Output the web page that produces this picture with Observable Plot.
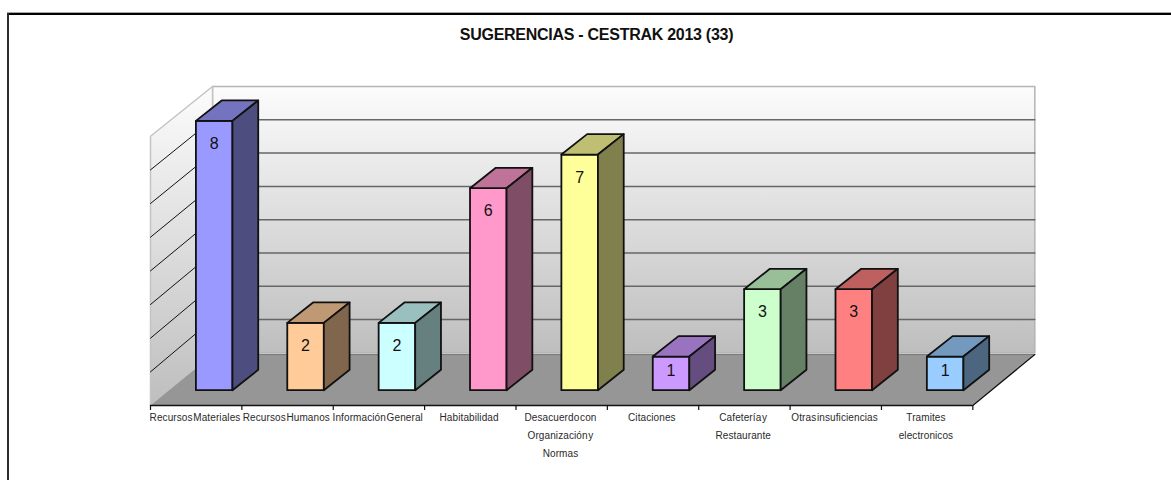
<!DOCTYPE html>
<html>
<head>
<meta charset="utf-8">
<script src="https://cdn.jsdelivr.net/npm/d3@7"></script>
<script src="https://cdn.jsdelivr.net/npm/@observablehq/plot@0.6"></script>
<style>
  html, body { margin: 0; padding: 0; background: #fff; }
  #chart { position: relative; width: 1171px; height: 480px; overflow: hidden; }
  #chart svg { display: block; }
  #chart .labels text { word-spacing: -2.2px; letter-spacing: 0.1px; }
  #chart .heading text { letter-spacing: -0.27px; }
  #frameTop { position: absolute; left: 7px; right: 0; top: 12px; height: 2px; background: #000; border-top: 1px solid #a8a8a8; }
  #frameLeft { position: absolute; left: 7px; width: 2px; top: 13px; bottom: 0; background: #2c2c2c; }
</style>
</head>
<body>
<div id="chart"></div>
<script>
const title = "SUGERENCIAS - CESTRAK 2013 (33)";
const categories = [
  "Recursos Materiales", "Recursos Humanos", "Información General", "Habitabilidad",
  "Desacuerdo con\nOrganización y\nNormas", "Citaciones", "Cafetería y\nRestaurante",
  "Otras insuficiencias", "Tramites\nelectronicos"
];
const values = [8, 2, 2, 6, 7, 1, 3, 3, 1];
const barColors = ["#9999FF", "#FFCC99", "#CCFFFF", "#FF99CC", "#FFFF99", "#CC99FF", "#CCFFCC", "#FF8080", "#99CCFF"];
const gridValues = [1, 2, 3, 4, 5, 6, 7];
const maxValue = 8;

// Oblique projection: x in category units, y in value units.
const depthX = 0.6786, depthY = 1.58;      // how far the back of the floor is shifted
const frontStretch = 1.0108;               // front of the box is slightly larger (perspective)
const px = (x, v, z) => ({x: x + z * depthX, y: z * depthY + v * (1 + (frontStretch - 1) * (1 - z))});
const n = categories.length;
const floorDrop = 0.05;

const bar = {x0: 0.497, w: 0.4, dx: 0.282, y0: 0.459, dy: 0.613, unit: 1.011};
const shade = (c, k) => { const r = d3.rgb(c); return d3.rgb(r.r * k, r.g * k, r.b * k).formatHex(); };

const faces = categories.flatMap((_, i) => {
  const v = values[i] * bar.unit, L = i + bar.x0, R = L + bar.w, B = bar.y0, T = B + v;
  const poly = (id, fill, pts) => pts.map(([x, y]) => ({id: `${i}-${id}`, fill, x, y}));
  return [
    ...poly("front", barColors[i], [[L, B], [R, B], [R, T], [L, T], [L, B]]),
    ...poly("top", shade(barColors[i], 0.75), [[L, T], [R, T], [R + bar.dx, T + bar.dy], [L + bar.dx, T + bar.dy], [L, T]]),
    ...poly("side", shade(barColors[i], 0.5), [[R, B], [R + bar.dx, B + bar.dy], [R + bar.dx, T + bar.dy], [R, T], [R, B]])
  ];
});

const backWall = [px(0, 0, 1), px(n, 0, 1), px(n, maxValue, 1), px(0, maxValue, 1), px(0, 0, 1)];
const leftWall = [px(0, 0, 0), px(0, 0, 1), px(0, maxValue, 1), px(0, maxValue, 0), px(0, 0, 0)];
const floor = [px(0, 0, 0), px(n, 0, 0), px(n, -floorDrop, 1), px(0, -floorDrop, 1), px(0, 0, 0)];
const backGrid = gridValues.flatMap(v => [px(0, v, 1), px(n, v, 1)].map(p => ({...p, v})));
const leftGrid = gridValues.flatMap(v => [px(0, v, 0), px(0, v, 1)].map(p => ({...p, v})));
const floorRight = [px(n, 0, 0), px(n, -floorDrop, 1)];
const floorBack = [px(0, -floorDrop, 1), px(n, -floorDrop, 1)];
const tickPositions = d3.range(0, n + 1);

const defs = () => {
  const d = d3.create("svg:defs");
  const g = (id, stops) => {
    const lg = d.append("linearGradient").attr("id", id).attr("x1", 0).attr("y1", 0).attr("x2", 0).attr("y2", 1);
    stops.forEach(([o, c]) => lg.append("stop").attr("offset", o).attr("stop-color", c));
  };
  g("wallBack", [[0, "#fcfcfc"], [1, "#bebebe"]]);
  g("wallLeft", [[0, "#fcfcfc"], [1, "#bebebe"]]);
  return d.node();
};

const chart = Plot.plot({
  width: 1171, height: 480,
  marginLeft: 0, marginRight: 0, marginTop: 0, marginBottom: 0,
  x: {axis: null, domain: [0, 10], range: [150, 150 + 913.7]},
  y: {axis: null, domain: [0, 10], range: [405, 72]},
  color: {type: "identity"},
  style: {background: "#fff", fontFamily: "'Liberation Sans', Arial, sans-serif", overflow: "visible"},
  marks: [
    defs,
    Plot.line(backWall, {x: "x", y: "y", fill: "url(#wallBack)", stroke: "#b4b4b4", strokeWidth: 1.5}),
    Plot.line(leftWall, {x: "x", y: "y", fill: "url(#wallLeft)", stroke: "#c4c4c4", strokeWidth: 1.5}),
    Plot.line(backGrid, {x: "x", y: "y", z: "v", stroke: "#666", strokeWidth: 1.5}),
    Plot.line(leftGrid, {x: "x", y: "y", z: "v", stroke: "#111", strokeWidth: 1}),
    Plot.line(floor, {x: "x", y: "y", fill: "#969696", stroke: "none"}),
    Plot.line(floorBack, {x: "x", y: "y", stroke: "#777", strokeWidth: 1}),
    Plot.line(floorRight, {x: "x", y: "y", stroke: "#111", strokeWidth: 1.2}),
    Plot.ruleY([0], {x1: 0, x2: n, stroke: "#111", strokeWidth: 1.5}),
    Plot.ruleX(tickPositions, {y1: 0, y2: -0.15, stroke: "#111", strokeWidth: 1.2}),
    Plot.line(faces, {x: "x", y: "y", z: "id", fill: "fill", stroke: "#111", strokeWidth: 1.8, strokeLinejoin: "round"}),
    Plot.text(categories, {
      x: (d, i) => i + 0.5, y: () => 0, text: d => d, dx: -1.2, dy: 3, lineAnchor: "top",
      fontSize: 10, lineHeight: 1.78, fill: "#2a2a2a", className: "labels"
    }),
    Plot.text(values, {
      x: (d, i) => i + bar.x0 + bar.w / 2,
      y: d => bar.y0 + d * bar.unit - Math.min(22 / 33.3, d * bar.unit * 0.4),
      text: d => String(d), fontSize: 16, fill: "#111", lineAnchor: "middle", dy: 1
    }),
    Plot.text([title], {
      frameAnchor: "top", dx: 10.5, dy: 34, lineAnchor: "middle",
      fontSize: 16, fontWeight: "bold", fill: "#111", text: d => d, className: "heading"
    })
  ]
});
const root = document.getElementById("chart");
root.appendChild(chart);
for (const id of ["frameTop", "frameLeft"]) {
  const el = document.createElement("div");
  el.id = id;
  root.appendChild(el);
}
</script>
</body>
</html>
